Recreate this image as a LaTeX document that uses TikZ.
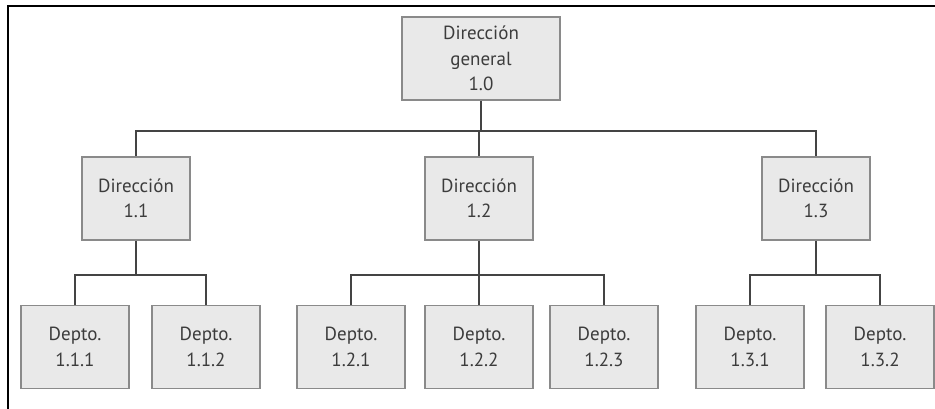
\documentclass[tikz,border=0pt]{standalone}
\usepackage{fontspec}
\setmainfont{PT Sans}
\definecolor{boxfill}{HTML}{E9E9E9}
\definecolor{boxline}{HTML}{8A8A8A}
\definecolor{linkline}{HTML}{444444}
\definecolor{labeltext}{HTML}{3C3C3C}
\begin{document}
\begin{tikzpicture}[x=1pt,y=-1pt,
  unitbox/.style={draw=boxline,fill=boxfill,line width=1.6pt,
    minimum width=108pt,minimum height=83pt,inner sep=0pt,
    align=center,text=labeltext,
    font=\fontsize{19}{25.5}\selectfont},
  topbox/.style={unitbox,minimum width=158pt},
  link/.style={draw=linkline,line width=1.6pt},
  frame/.style={draw=black,line width=2.4pt}]
\useasboundingbox (0,0) rectangle (935,409);
% outer frame (left and top edges)
\draw[frame] (8,409) -- (8,6) -- (935,6);

% top level
\node[topbox] (d0) at (481,58.5) {Dirección\\general\\1.0};

% second level
\node[unitbox] (d11) at (136,198.5) {Dirección\\1.1};
\node[unitbox] (d12) at (479,198.5) {Dirección\\1.2};
\node[unitbox] (d13) at (816,198.5) {Dirección\\1.3};

% third level
\node[unitbox] (p111) at (75,347) {Depto.\\1.1.1};
\node[unitbox] (p112) at (206,347) {Depto.\\1.1.2};
\node[unitbox] (p121) at (351,347) {Depto.\\1.2.1};
\node[unitbox] (p122) at (479,347) {Depto.\\1.2.2};
\node[unitbox] (p123) at (604,347) {Depto.\\1.2.3};
\node[unitbox] (p131) at (750,347) {Depto.\\1.3.1};
\node[unitbox] (p132) at (880,347) {Depto.\\1.3.2};

% bus heights
\coordinate (bus0) at (0,131);
\coordinate (bus1) at (0,275);

% top to second level
\draw[link] (d0.south) -- (d0.south |- bus0);
\draw[link] (d11.north) |- (d13.north |- bus0) -- (d13.north);
\draw[link] (d12.north) -- (d12.north |- bus0);

% second to third level
\draw[link] (d11.south) -- (d11.south |- bus1);
\draw[link] (p111.north) |- (p112.north |- bus1) -- (p112.north);
\draw[link] (d12.south) -- (p122.north);
\draw[link] (p121.north) |- (p123.north |- bus1) -- (p123.north);
\draw[link] (d13.south) -- (d13.south |- bus1);
\draw[link] (p131.north) |- (p132.north |- bus1) -- (p132.north);
\end{tikzpicture}
\end{document}
